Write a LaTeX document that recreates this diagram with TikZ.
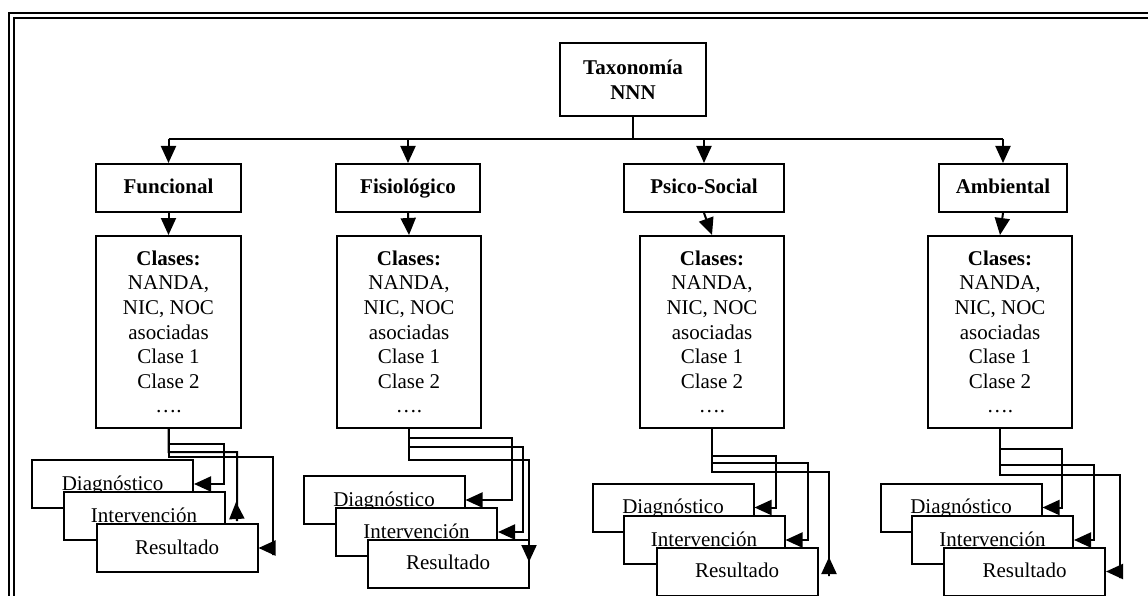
\documentclass[tikz,border=0pt]{standalone}
\usepackage{fontspec}
\setmainfont{Liberation Serif}
\usetikzlibrary{arrows.meta}
\begin{document}
\begin{tikzpicture}[x=1pt,y=-1pt,
  txt/.style={font=\fontsize{21}{24.6}\selectfont},
  box/.style={draw, line width=2pt, fill=white, inner sep=0pt, align=center, txt},
  head/.style={box, font=\bfseries\fontsize{21}{24.6}\selectfont},
  lvl/.style={head, minimum height=48, text height=14pt, text depth=2pt},
  cls/.style={box, minimum width=144, minimum height=192},
  sub/.style={box, minimum width=161, minimum height=48, text height=14pt, text depth=2pt},
  line/.style={line width=2pt},
  arr/.style={line, -{Triangle[length=17pt 0 0,width=15pt 0 0]}},
  frame/.style={line width=2.5pt}
]
\useasboundingbox (0,0) rectangle (1148,596);

% double page frame
\draw[frame] (9.2,600) -- (9.2,13.2) -- (1152,13.2);
\draw[frame] (14.2,600) -- (14.2,18.2) -- (1152,18.2);

% root
\node[head, minimum width=146, minimum height=73] (tax) at (633,79.5) {Taxonomía\\NNN};

% first level
\node[lvl, minimum width=145] (fun) at (168.5,188) {Funcional};
\node[lvl, minimum width=144] (fis) at (408,188) {Fisiológico};
\node[lvl, minimum width=160] (psi) at (704,188) {Psico-Social};
\node[lvl, minimum width=128] (amb) at (1003,188) {Ambiental};

% class boxes
\newcommand{\clases}{\textbf{Clases:}\\NANDA,\\NIC, NOC\\asociadas\\Clase 1\\Clase 2\\….}
\node[cls, minimum width=145] (fc) at (168.5,332) {\clases};
\node[cls] (sc) at (409,332) {\clases};
\node[cls] (pc) at (712,332) {\clases};
\node[cls] (ac) at (1000,332) {\clases};

% bus under the root
\coordinate (bus) at (633,139);
\draw[line] (tax.south) -- (bus);
\draw[line] (fun.north |- bus) -- (amb.north |- bus);
\foreach \n in {fun,fis,psi,amb}
  \draw[arr] (\n.north |- bus) -- (\n.north);

% first level to classes
\draw[arr] (fun.south) -- (fc.north);
\draw[arr] (fis.south) -- (sc.north);
\draw[arr] (psi.south) -- (pc.north);
\draw[arr] (amb.south) -- (ac.north);

% Funcional stack
\node[sub] (fd) at (112.5,484) {Diagnóstico};
\node[sub] (fi) at (144,516) {Intervención};
\node[sub] (fr) at (177,548) {Resultado};
\coordinate (fitip) at (236,502);
\draw[arr] (fc.south) |- (224,444) |- (fd.east);
\draw[arr] (fc.south) |- (237,452) -- (237,521) -- (fitip);
\draw[arr] (fc.south) |- (273,457) -- (273,555) -- (273,548) -- (fr.east);

% Fisiologico stack
\node[sub] (sd) at (384,500) {Diagnóstico};
\node[sub] (si) at (416.5,532) {Intervención};
\node[sub] (sr) at (448,563.5) {Resultado};
\coordinate (srtip) at (529,562);
\draw[arr] (sc.south) |- (512,438) |- (sd.east);
\draw[arr] (sc.south) |- (523,447) |- (si.east);
\draw[arr] (sc.south) |- (529,460) -- (srtip);

% Psico-Social stack
\node[sub] (pd) at (673,507.5) {Diagnóstico};
\node[sub] (pi) at (704,540) {Intervención};
\node[sub] (pr) at (737,571.5) {Resultado};
\coordinate (prtip) at (829,557);
\draw[arr] (pc.south) |- (776,456) |- (pd.east);
\draw[arr] (pc.south) |- (808,463) |- (pi.east);
\draw[arr] (pc.south) |- (829,472) -- (829,576) -- (prtip);

% Ambiental stack
\node[sub] (ad) at (961,507.5) {Diagnóstico};
\node[sub] (ai) at (992.5,540) {Intervención};
\node[sub] (ar) at (1024.5,571.5) {Resultado};
\draw[arr] (ac.south) |- (1062,449) |- (ad.east);
\draw[arr] (ac.south) |- (1094,465) |- (ai.east);
\draw[arr] (ac.south) |- (1120,475) -- (1120,578) -- (1120,571.5) -- (ar.east);
\end{tikzpicture}
\end{document}
